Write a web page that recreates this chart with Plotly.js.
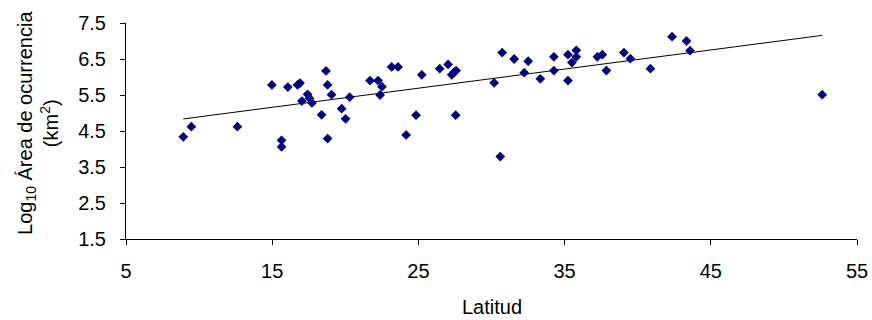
<!DOCTYPE html>
<html>
<head>
<meta charset="utf-8">
<script src="https://cdn.plot.ly/plotly-3.0.1.min.js"></script>
<style>html,body{margin:0;padding:0;background:#fff;}#chart{width:872px;height:320px;}</style>
</head>
<body>
<div id="chart"></div>
<script>
const latitud = [8.92,9.47,12.62,14.98,16.07,16.73,16.9,17.03,17.42,17.55,17.72,15.64,15.64,18.38,18.68,18.79,19.06,18.79,19.75,20.02,20.3,21.69,22.24,22.51,22.38,23.17,23.61,25.23,24.84,24.16,26.46,27.03,27.28,27.44,27.58,27.55,30.18,30.73,30.6,31.55,32.51,32.24,33.34,34.27,34.27,35.23,35.23,35.5,35.8,35.8,37.24,37.58,37.86,39.06,39.5,40.87,42.35,43.34,43.58,52.62];
const logArea = [4.34,4.62,4.62,5.78,5.72,5.78,5.83,5.33,5.52,5.41,5.28,4.24,4.06,4.95,6.17,5.78,5.51,4.29,5.12,4.84,5.44,5.90,5.90,5.73,5.50,6.28,6.28,6.06,4.94,4.39,6.23,6.35,6.06,6.13,6.18,4.94,5.84,6.68,3.79,6.50,6.44,6.12,5.95,6.56,6.18,6.62,5.90,6.40,6.74,6.56,6.56,6.62,6.18,6.68,6.51,6.23,7.12,7.00,6.73,5.51];
const xTicks = [5,15,25,35,45,55];
const yTicks = [1.5,2.5,3.5,4.5,5.5,6.5,7.5];

// linear least-squares trend line
const n = latitud.length;
const mx = latitud.reduce((a,b)=>a+b,0)/n;
const my = logArea.reduce((a,b)=>a+b,0)/n;
let sxy=0, sxx=0;
for (let i=0;i<n;i++){ sxy += (latitud[i]-mx)*(logArea[i]-my); sxx += (latitud[i]-mx)**2; }
const slope = sxy/sxx, inter = my - slope*mx;
const xmin = Math.min(...latitud), xmax = Math.max(...latitud);
const trendX = [xmin, xmax];
const trendY = trendX.map(x => inter + slope*x);

const font = {family: 'Liberation Sans, Arial, sans-serif', size: 20, color: '#000'};
Plotly.newPlot('chart', [
  {x: trendX, y: trendY, mode: 'lines', line: {color: '#000', width: 1}, hoverinfo: 'skip'},
  {x: latitud, y: logArea, mode: 'markers', marker: {symbol: 'diamond', size: 7.5, color: '#000080'}}
], {
  width: 872, height: 320,
  margin: {l: 126, r: 15, t: 23, b: 81},
  paper_bgcolor: '#fff', plot_bgcolor: '#fff',
  showlegend: false,
  font: font,
  xaxis: {
    range: [5, 55], tickvals: xTicks, ticktext: xTicks.map(String),
    showgrid: false, zeroline: false, showline: true, linecolor: '#000', linewidth: 1,
    ticks: 'outside', ticklen: 5, tickcolor: '#000', ticklabelstandoff: 9
  },
  yaxis: {
    range: [1.5, 7.5], tickvals: yTicks, ticktext: yTicks.map(v => v.toFixed(1)),
    showgrid: false, zeroline: false, showline: true, linecolor: '#000', linewidth: 1,
    ticks: 'outside', ticklen: 5, tickcolor: '#000', ticklabelstandoff: 10
  },
  annotations: [
    {text: 'Log<sub>10</sub> Área de ocurrencia<br>(km<sup>2</sup>)', textangle: -90,
     xref: 'paper', yref: 'paper', x: -0.1204, y: 0.537, xanchor: 'center', yanchor: 'middle',
     showarrow: false, font: font},
    {text: 'Latitud', xref: 'paper', yref: 'paper', x: 0.5, y: -0.315,
     xanchor: 'center', yanchor: 'middle', showarrow: false, font: font}
  ]
}, {displayModeBar: false, staticPlot: true});
</script>
</body>
</html>
